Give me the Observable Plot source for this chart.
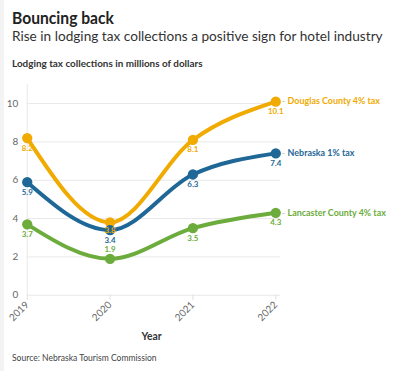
<!DOCTYPE html>
<html>
<head>
<meta charset="utf-8">
<script src="https://cdn.jsdelivr.net/npm/d3@7"></script>
<script src="https://cdn.jsdelivr.net/npm/@observablehq/plot@0.6"></script>
<style>
  html, body { margin: 0; padding: 0; background: #fff; }
  body { width: 400px; height: 371px; overflow: hidden; font-family: Lato, "Open Sans", sans-serif; border-left: 4px solid #f3f3f3; box-sizing: border-box; position: relative; }
  .t { position: absolute; left: 8px; line-height: 1; white-space: nowrap; transform-origin: 0 0; }
  #title { top: 9px; font-size: 17px; font-weight: 700; color: #222; transform: scaleX(0.92); }
  #subtitle { top: 30px; font-size: 13.5px; color: #333; transform: scaleX(1.01); }
  #ylab { top: 58px; font-size: 10px; font-weight: 700; color: #333; transform: scaleX(0.99); }
  #chart { position: absolute; left: -4px; top: 72px; }
  #source { top: 353px; font-size: 9.5px; color: #444; transform: scaleX(0.9); }
</style>
</head>
<body>
<div id="title" class="t">Bouncing back</div>
<div id="subtitle" class="t">Rise in lodging tax collections a positive sign for hotel industry</div>
<div id="ylab" class="t">Lodging tax collections in millions of dollars</div>
<div id="chart"></div>
<div id="source" class="t">Source: Nebraska Tourism Commission</div>
<script>
const years = [2019, 2020, 2021, 2022];
const seriesNames = ["Douglas County 4% tax", "Nebraska 1% tax", "Lancaster County 4% tax"];
const douglas = [8.2, 3.8, 8.1, 10.1];
const nebraska = [5.9, 3.4, 6.3, 7.4];
const lancaster = [3.7, 1.9, 3.5, 4.3];
const colors = ["#f0aa00", "#1e6796", "#6cac3c"];
const yTicks = [0, 2, 4, 6, 8, 10];

const seriesValues = [douglas, nebraska, lancaster];
const data = [];
seriesNames.forEach((s, i) => years.forEach((y, j) => data.push({series: s, year: y, value: seriesValues[i][j]})));
const last = data.filter(d => d.year === 2022);
// vertical offset of each value label (px): below the point, except Lancaster 2020 above
const labelDy = d => d.year !== 2020 ? 10 : d.series === seriesNames[0] ? 8.5 : d.series === seriesNames[1] ? 10 : -9;
const anchorOf = d => d.year === 2019 ? "start" : d.year === 2022 ? "end" : "middle";
const groups = d3.groups(data, labelDy);

const chart = Plot.plot({
  width: 404,
  height: 273,
  marginLeft: 27,
  marginRight: 126,
  marginTop: 12,
  marginBottom: 48,
  style: {fontFamily: "Lato, sans-serif", fontSize: "10px", color: "#666", background: "transparent", overflow: "visible"},
  x: {type: "linear", domain: [2019, 2022], label: null},
  y: {type: "linear", domain: [0, 11], label: null},
  color: {domain: seriesNames, range: colors},
  marks: [
    Plot.ruleY(yTicks, {x1: 2019, x2: 2022.06, stroke: "#e8e8e8"}),
    Plot.ruleX([2019], {y1: 0, y2: 11, stroke: "#e8e8e8"}),
    Plot.axisY({ticks: yTicks, tickSize: 0, tickPadding: 9, fontSize: 10, fill: "#666", label: null}),
    Plot.axisX({ticks: years, tickFormat: d => String(d), tickRotate: -45, tickSize: 5, stroke: "#e0e0e0", fill: "#666", fontSize: 10, label: null, tickPadding: 3}),
    Plot.line(data, {x: "year", y: "value", z: "series", stroke: "series", strokeWidth: 4, curve: "monotone-x"}),
    Plot.dot(data, {x: "year", y: "value", fill: "series", r: 5.2}),
    ...groups.map(([dy, rows]) => Plot.text(rows, {x: "year", y: "value", text: d => d.value.toFixed(1), fill: "series", fontWeight: 700, fontSize: 8, dy, textAnchor: anchorOf})),
    Plot.text(last, {x: "year", y: "value", text: () => "-", fill: "#bbb", fontSize: 9, textAnchor: "start", dx: 6}),
    Plot.text(last, {x: "year", y: "value", text: "series", fill: "series", fontWeight: 700, fontSize: 9, textAnchor: "start", dx: 12}),
    Plot.text(["Year"], {x: 2020.5, y: 0, dy: 42, fontWeight: 700, fontSize: 10.5, fill: "#333", text: d => d})
  ]
});
document.getElementById("chart").appendChild(chart);
</script>
</body>
</html>
